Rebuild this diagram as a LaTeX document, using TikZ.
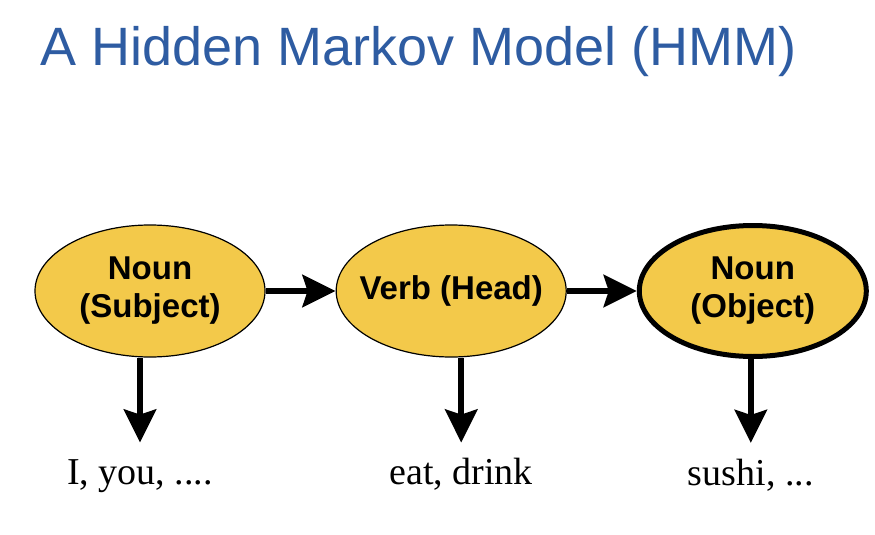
\documentclass[tikz,border=0pt]{standalone}
\usepackage{fontspec}
\setmainfont{Liberation Serif}
\setsansfont{Liberation Sans}
\usetikzlibrary{positioning}
\usetikzlibrary{shapes.geometric}
\usetikzlibrary{arrows.meta}
\definecolor{titleblue}{RGB}{46,92,162}
\definecolor{nodeyellow}{RGB}{243,201,74}

\begin{document}
\begin{tikzpicture}[x=1pt, y=-1pt,
            titlenode/.style={inner sep=0pt, text=titleblue, font=\sffamily\fontsize{54}{60}\selectfont},
            yellowellipsenode/.style={ellipse, draw=black, fill=nodeyellow, line width=1.2pt, minimum width=230pt, minimum height=132pt, inner sep=0pt, align=center, font=\sffamily\bfseries\fontsize{33}{38}\selectfont},
            thickellipsenode/.style={yellowellipsenode, line width=5pt, minimum width=227pt, minimum height=131pt},
            wordnode/.style={inner xsep=0pt, inner ysep=17pt, text height=25pt, text depth=8pt, font=\fontsize{38}{40}\selectfont},
            flowarrow/.style={-{Stealth[length=33pt, width=32pt, inset=5pt]}, line width=6.5pt},
            ]
            \useasboundingbox (0,0) rectangle (875,535);
            \node[titlenode, anchor=base west] (title) at (40,66) {A Hidden Markov Model (HMM)};
            \node[yellowellipsenode] (subj) at (150,291) {Noun\\(Subject)};
            \node[yellowellipsenode, right=70pt of subj] (verb) {\makebox[150pt][c]{Verb (Head)}};
            \node[thickellipsenode, right=70pt of verb] (obj) {Noun\\(Object)};
            \node[wordnode, below=85pt of subj, xshift=-10pt] (subjword) {I, you, ....};
            \node[wordnode, below=85pt of verb, xshift=10pt] (verbword) {eat, drink};
            \node[wordnode, below=84pt of obj, xshift=-2pt] (objword) {sushi, ...};
            \draw[flowarrow] (subj) -- (verb);
            \draw[flowarrow] (verb) -- (obj);
            \draw[flowarrow] (subjword.north |- subj.south) -- (subjword.north);
            \draw[flowarrow] (verbword.north |- verb.south) -- (verbword.north);
            \draw[flowarrow] (objword.north |- obj.south) -- (objword.north);
        \end{tikzpicture}
\end{document}
